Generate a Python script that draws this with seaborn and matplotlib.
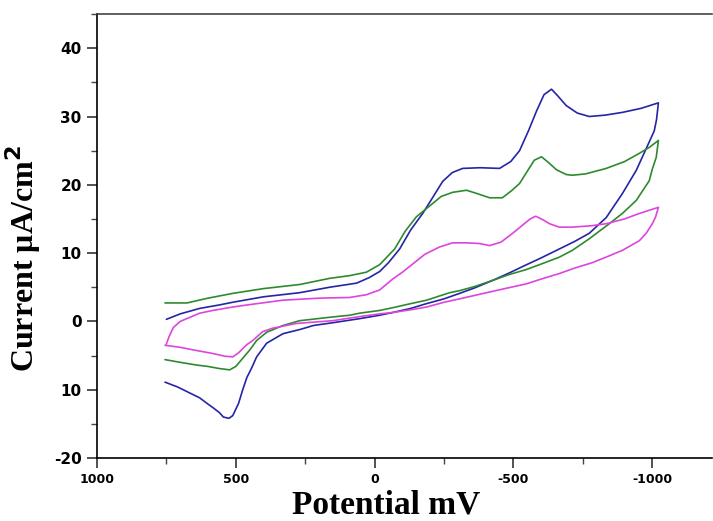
import pandas as pd
import matplotlib
matplotlib.use("Agg")
import matplotlib.pyplot as plt
from matplotlib.ticker import MultipleLocator, FixedLocator
import seaborn as sns

# cyclic voltammograms (mV, uA/cm2)
# each scan: forward branch 750 -> -1022 mV, then back to 750 mV
blue_mv = [750, 700, 630, 560, 511, 400, 270, 162, 65, 20, -18, -50, -90, -130, -173, -210,
           -245, -280, -317, -380, -450, -490, -522, -555, -583, -610, -637, -660, -690, -730,
           -773, -830, -892, -960, -1022,
           -1015, -1007, -978, -942, -892, -834, -773, -720, -665, -600, -547, -480, -425, -360,
           -306, -250, -187, -130, -65, -18, 54, 151, 220, 270, 330, 389, 425, 445, 460, 475,
           490, 511, 525, 545, 558, 580, 604, 630, 665, 710, 755]
blue_ua = [0.3, 1.1, 1.9, 2.4, 2.8, 3.6, 4.2, 5.0, 5.6, 6.4, 7.3, 8.6, 10.6, 13.4, 15.8, 18.2,
           20.5, 21.8, 22.4, 22.5, 22.4, 23.4, 25.0, 28.0, 30.8, 33.2, 34.0, 33.0, 31.6, 30.5,
           30.0, 30.2, 30.6, 31.2, 32.0,
           29.5, 27.9, 25.3, 22.1, 18.7, 15.2, 12.9, 11.7, 10.6, 9.3, 8.3, 7.0, 6.0, 4.9,
           4.1, 3.3, 2.6, 1.9, 1.3, 0.9, 0.4, -0.2, -0.6, -1.2, -1.8, -3.2, -5.2, -7.0, -8.2, -10.0,
           -12.0, -13.8, -14.2, -14.0, -13.4, -12.7, -12.0, -11.2, -10.5, -9.6, -8.9]

green_mv = [755, 676, 600, 511, 400, 270, 162, 90, 30, -18, -72, -110, -150, -198, -240, -281,
            -331, -370, -414, -460, -495, -522, -550, -575, -601, -625, -655, -690, -712, -760,
            -834, -900, -953, -990, -1022,
            -1014, -1000, -989, -942, -892, -845, -773, -712, -665, -600, -547, -480, -425, -360,
            -306, -270, -187, -130, -65, -18, 54, 90, 162, 270, 330, 389, 425, 450, 475, 500,
            522, 560, 600, 640, 700, 755]
green_ua = [2.7, 2.7, 3.4, 4.1, 4.8, 5.4, 6.3, 6.7, 7.2, 8.3, 10.6, 13.2, 15.3, 16.9, 18.3, 18.9,
            19.2, 18.7, 18.1, 18.1, 19.2, 20.2, 22.0, 23.6, 24.1, 23.3, 22.2, 21.5, 21.4, 21.6,
            22.4, 23.4, 24.6, 25.5, 26.5,
            24.0, 22.3, 20.6, 17.7, 15.8, 14.3, 12.1, 10.4, 9.4, 8.4, 7.6, 6.8, 6.0, 5.1,
            4.5, 4.2, 3.1, 2.6, 2.0, 1.6, 1.2, 0.9, 0.6, 0.1, -0.6, -1.6, -2.8, -4.2, -5.4, -6.6,
            -7.1, -6.9, -6.6, -6.4, -6.0, -5.6]

pink_mv = [750, 740, 725, 700, 665, 630, 583, 511, 460, 331, 200, 90, 30, -18, -65, -100,
           -137, -180, -234, -281, -330, -378, -414, -455, -497, -530, -560, -580, -605, -630,
           -665, -712, -780, -834, -900, -953, -1022,
           -1012, -1000, -978, -953, -892, -845, -784, -720, -665, -600, -547, -480, -425, -360,
           -306, -250, -187, -130, -65, -18, 54, 151, 281, 367, 403, 439, 460, 490, 511, 540,
           583, 650, 700, 755]
pink_ua = [-3.3, -2.2, -0.9, 0.0, 0.6, 1.2, 1.6, 2.1, 2.4, 3.1, 3.4, 3.5, 3.9, 4.6, 6.2, 7.2,
           8.4, 9.8, 10.9, 11.5, 11.5, 11.4, 11.1, 11.6, 12.9, 14.0, 15.0, 15.4, 14.9, 14.3,
           13.8, 13.8, 14.0, 14.3, 15.0, 15.8, 16.7,
           15.3, 14.3, 12.9, 11.8, 10.4, 9.6, 8.6, 7.8, 7.0, 6.2, 5.5, 4.9, 4.4, 3.8,
           3.3, 2.8, 2.1, 1.7, 1.3, 1.1, 0.7, 0.1, -0.3, -1.0, -1.5, -2.8, -3.4, -4.6, -5.2, -5.1,
           -4.7, -4.2, -3.8, -3.5]

x_ticks = [1000, 500, 0, -500, -1000]
x_labels = ["1000", "500", "0", "-500", "-1000"]
y_ticks = [-20, -10, 0, 10, 20, 30, 40]
y_labels = ["-20", "10", "0", "10", "20", "30", "40"]

frames = []
for name, mv, ua in [("blue", blue_mv, blue_ua), ("green", green_mv, green_ua),
                     ("pink", pink_mv, pink_ua)]:
    frames.append(pd.DataFrame({"potential": mv, "current": ua, "scan": name}))
df = pd.concat(frames, ignore_index=True)

sns.set_style("ticks")
fig = plt.figure(figsize=(7.13, 5.21), dpi=100)
ax = fig.add_axes([0.136, 0.121, 0.863, 0.852])

sns.lineplot(data=df, x="potential", y="current", hue="scan", sort=False, estimator=None,
             palette={"blue": "#2525a5", "green": "#2f8a2f", "pink": "#dd45dd"},
             linewidth=1.2, legend=False, ax=ax)

ax.set_xlim(1000, -1216)
ax.set_ylim(-20, 45)
ax.xaxis.set_major_locator(FixedLocator(x_ticks))
ax.set_xticklabels(x_labels)
ax.xaxis.set_minor_locator(MultipleLocator(250))
ax.yaxis.set_major_locator(FixedLocator(y_ticks))
ax.set_yticklabels(y_labels)
ax.yaxis.set_minor_locator(MultipleLocator(5))

ax.tick_params(axis="both", which="major", length=7, width=1.1, color="#222222", pad=4,
               labelcolor="black")
ax.tick_params(axis="both", which="minor", length=4.5, width=1.0, color="#444444")
for lab in ax.get_xticklabels():
    lab.set_fontsize(9)
    lab.set_fontweight("bold")
for lab in ax.get_yticklabels():
    lab.set_fontsize(11)
    lab.set_fontweight("bold")

ax.spines["right"].set_visible(False)
ax.spines["top"].set_color("#444444")
for s in ["left", "bottom"]:
    ax.spines[s].set_color("black")
for s in ["left", "bottom", "top"]:
    ax.spines[s].set_linewidth(1.2)

ax.set_xlabel("Potential mV", fontsize=24, fontweight="bold", family="Liberation Serif",
              color="black")
ax.set_ylabel("Current \u03bcA/cm$^\\mathbf{2}$", fontsize=23, fontweight="bold",
              family="Liberation Serif", color="black")
ax.xaxis.set_label_coords(0.47, -0.07)
ax.yaxis.set_label_coords(-0.088, 0.45)

fig.savefig("out.png", dpi=100)
